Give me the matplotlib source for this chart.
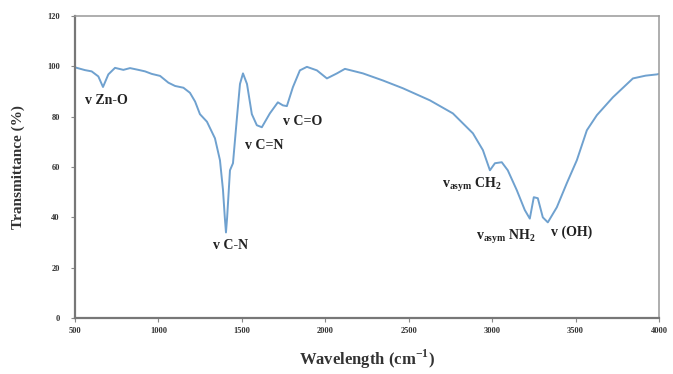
import matplotlib

matplotlib.use("Agg")
import matplotlib.pyplot as plt

# FTIR spectrum
wavenumber = [500, 560, 600, 640, 668, 700, 740, 790, 830, 880, 920, 960,
              1010, 1060, 1100, 1150, 1189, 1220, 1249, 1291, 1339, 1369,
              1387, 1398, 1405, 1412, 1429, 1447, 1471, 1489, 1507, 1531,
              1560, 1590, 1620, 1668, 1716, 1746, 1770, 1806, 1848, 1890,
              1950, 2010, 2070, 2118, 2226, 2345, 2465, 2627, 2765, 2885,
              2945, 2987, 3017, 3058, 3094, 3148, 3196, 3226, 3250, 3274,
              3304, 3334, 3388, 3448, 3508, 3568, 3628, 3724, 3844, 3920,
              3988, 4000]
transmittance = [99.6, 98.5, 98.0, 96.0, 91.8, 96.8, 99.4, 98.6, 99.3, 98.6,
                 98.0, 97.0, 96.2, 93.5, 92.2, 91.5, 89.5, 86.0, 81.0, 78.0,
                 71.4, 62.7, 51.0, 40.0, 34.0, 40.0, 58.7, 61.5, 79.8, 93.0,
                 97.2, 93.0, 81.0, 76.6, 75.8, 81.3, 85.7, 84.5, 84.2, 91.7,
                 98.4, 99.8, 98.4, 95.2, 97.2, 99.0, 97.2, 94.4, 91.3, 86.5,
                 81.3, 73.4, 66.7, 58.7, 61.5, 61.9, 58.7, 50.8, 42.9, 39.5,
                 48.0, 47.6, 40.0, 38.0, 44.0, 53.6, 62.7, 74.6, 80.6, 87.7,
                 95.2, 96.3, 96.8, 97.0]

# peak annotations: text, left x, centre y (data coords)
peak_labels = [
    ("v Zn-O", 560, 86.5),
    ("v C-N", 1327, 29),
    ("v C=N", 1519, 68.7),
    ("v C=O", 1746, 78.2),
    (r"v$_{\mathbf{asym}}$ CH$_{\mathbf{2}}$", 2699, 52.8),
    (r"v$_{\mathbf{asym}}$ NH$_{\mathbf{2}}$", 2903, 32.1),
    ("v (OH)", 3352, 34.1),
]

plt.rcParams["font.family"] = ["Liberation Serif", "DejaVu Serif"]
plt.rcParams["mathtext.fontset"] = "custom"
plt.rcParams["mathtext.rm"] = "Liberation Serif"
plt.rcParams["mathtext.bf"] = "Liberation Serif:bold"

fig = plt.figure(figsize=(6.73, 3.74), dpi=100)
ax = fig.add_axes([0.1114, 0.1497, 0.8677, 0.8075])

ax.plot(wavenumber, transmittance, color="#6fa1cf", linewidth=1.4)

for text, x, y in peak_labels:
    ax.text(x, y, text, fontsize=10, fontweight="bold", color="#222222",
            va="center", ha="left")

ax.set_xlim(500, 4000)
ax.set_ylim(0, 120)
ax.set_xticks(range(500, 4001, 500))
ax.set_yticks(range(0, 121, 20))
ax.tick_params(labelsize=6, length=3, width=0.8, color="#888888",
               labelcolor="#333333")
ax.tick_params(axis="y", pad=8)
for lab in ax.get_xticklabels() + ax.get_yticklabels():
    lab.set_fontweight("bold")

for side in ("left", "bottom"):
    ax.spines[side].set_color("#777777")
    ax.spines[side].set_linewidth(1.6)
for side in ("top", "right"):
    ax.spines[side].set_color("#999999")
    ax.spines[side].set_linewidth(1.1)

ax.set_xlabel("Wavelength (cm$^{\\mathbf{-1}}$)", fontsize=12,
              fontweight="bold", labelpad=9, color="#333333")
ax.set_ylabel("Transmittance (%)", fontsize=11, fontweight="bold",
              labelpad=16, color="#333333")

fig.savefig("out.png", dpi=100)
